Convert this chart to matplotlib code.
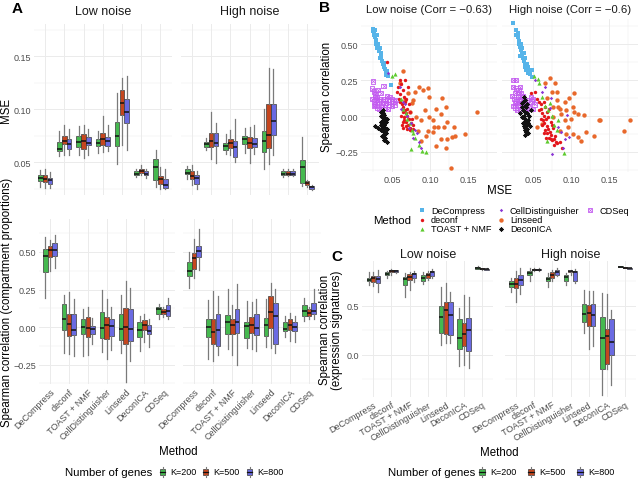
import matplotlib
matplotlib.use("Agg")
import matplotlib.pyplot as plt
from matplotlib.patches import Rectangle
from matplotlib.lines import Line2D
import numpy as np

plt.rcParams['font.family'] = ['Liberation Sans', 'DejaVu Sans']

# ---------------- data ----------------
methods = ["DeCompress", "deconf", "TOAST + NMF", "CellDistinguisher", "Linseed", "DeconICA", "CDSeq"]
k_labels = ["K=200", "K=500", "K=800"]
noise_labels = ["Low noise", "High noise"]
corr_labels = ["Low noise (Corr = \u22120.63)", "High noise (Corr = \u22120.6)"]

# box stats per method: (whisker low, q1, median, q3, whisker high)
mse_low_k200 = [(.0266, .0319, .035, .0381, .0422), (.0556, .06, .0625, .0688, .0788), (.0563, .0641, .0688, .0744, .0844),
                (.0588, .065, .0681, .0719, .0797), (.0484, .065, .075, .0875, .115), (.0359, .0375, .039, .0413, .0438),
                (.0266, .0328, .0453, .0525, .0609)]
mse_low_k500 = [(.0256, .0313, .0344, .0375, .0438), (.0569, .0666, .0703, .0744, .085), (.0538, .0619, .0703, .0766, .085),
                (.0594, .0656, .0713, .0772, .0931), (.0656, .0947, .1053, .1178, .1297), (.0381, .04, .0419, .0438, .0469),
                (.0244, .0291, .0344, .0366, .0453)]
mse_low_k800 = [(.0256, .0297, .0328, .035, .0406), (.0563, .0619, .0666, .0719, .0813), (.0569, .0656, .0681, .0734, .0813),
                (.06, .0647, .0694, .0734, .085), (.0609, .0866, .0969, .1094, .1313), (.035, .0375, .039, .0413, .0438),
                (.0244, .0259, .0281, .0344, .0438)]
mse_high_k200 = [(.0344, .0384, .04, .0431, .0459), (.0609, .0641, .0672, .0688, .0725), (.0578, .0616, .065, .0681, .0766),
                 (.0588, .0666, .0713, .0744, .0819), (.0431, .0594, .0694, .0797, .1), (.0359, .0375, .039, .0413, .0431),
                 (.0275, .0306, .0453, .0516, .0734)]
mse_high_k500 = [(.0288, .0344, .0369, .0413, .0475), (.0531, .0641, .0694, .0772, .0975), (.0563, .0631, .0681, .0713, .0806),
                 (.0494, .0631, .0681, .0734, .0828), (.0484, .0631, .0756, .1047, .1391), (.0369, .0375, .039, .0413, .0438),
                 (.0266, .0288, .0306, .0319, .0334)]
mse_high_k800 = [(.0244, .0291, .0353, .0375, .0413), (.0494, .065, .0681, .0772, .0869), (.05, .0547, .0641, .0703, .0906),
                 (.0578, .0641, .0669, .0725, .085), (.0569, .0756, .0891, .1047, .1375), (.0369, .0375, .039, .0413, .0431),
                 (.0234, .025, .0263, .0275, .0288)]

prop_low_k200 = [(.196, .367, .474, .519, .597), (-.171, -.022, .051, .151, .212), (-.194, -.049, -.002, .051, .122),
                 (-.167, -.071, -.009, .1, .247), (-.176, -.087, -.016, .085, .212), (-.16, -.065, -.02, .036, .073),
                 (.051, .089, .118, .136, .151)]
prop_low_k500 = [(.374, .47, .512, .537, .581), (-.183, -.06, .018, .089, .234), (-.189, -.065, -.009, .069, .136),
                 (-.216, -.078, .011, .069, .185), (-.367, -.111, .002, .129, .307), (-.1, -.02, .011, .047, .085),
                 (.069, .085, .1, .118, .136)]
prop_low_k800 = [(.396, .474, .512, .557, .612), (-.194, -.053, -.02, .085, .189), (-.116, -.049, -.011, .007, .062),
                 (-.154, -.06, .007, .051, .136), (-.227, -.094, -.011, .118, .261), (-.131, -.049, -.029, .011, .056),
                 (.056, .073, .107, .145, .196)]
prop_high_k200 = [(.263, .341, .374, .434, .497), (-.216, -.065, 0, .051, .178), (-.149, -.049, .033, .078, .252),
                  (-.138, -.071, .007, .033, .174), (-.131, -.06, .011, .062, .189), (-.065, -.027, -.016, .033, .073),
                  (.04, .073, .107, .145, .196)]
prop_high_k500 = [(.33, .385, .457, .492, .586), (-.227, -.116, -.033, .051, .241), (-.189, -.045, .016, .056, .145),
                  (-.149, -.038, .011, .067, .167), (-.138, -.009, .102, .207, .296), (-.094, -.022, .011, .056, .096),
                  (.056, .073, .096, .118, .136)]
prop_high_k800 = [(.381, .468, .508, .541, .653), (-.189, -.127, -.02, .085, .207), (-.256, -.042, .033, .118, .285),
                  (-.16, -.053, -.004, .089, .185), (-.176, -.111, .073, .163, .252), (-.1, -.027, 0, .033, .073),
                  (.051, .085, .107, .163, .256)]

sig_low_k200 = [(.719, .753, .764, .784, .849), (.788, .815, .829, .842, .856), (.592, .719, .774, .798, .832),
                (.729, .753, .788, .815, .842), (.097, .229, .392, .5, .698), (-.111, .063, .177, .368, .479),
                (.875, .882, .889, .896, .903)]
sig_low_k500 = [(.699, .747, .781, .805, .849), (.815, .842, .856, .863, .877), (.661, .764, .798, .822, .849),
                (.764, .788, .815, .832, .856), (.125, .212, .455, .542, .733), (-.101, .09, .212, .326, .611),
                (.872, .875, .882, .889, .892)]
sig_low_k800 = [(.64, .736, .774, .805, .866), (.836, .842, .853, .863, .87), (.747, .788, .822, .839, .856),
                (.781, .808, .842, .856, .877), (.118, .208, .403, .542, .646), (-.135, .038, .257, .378, .594),
                (.868, .872, .875, .882, .885)]
sig_high_k200 = [(.639, .698, .722, .75, .785), (.75, .819, .837, .854, .889), (.698, .75, .778, .792, .837),
                 (.715, .757, .795, .819, .837), (.229, .333, .42, .524, .663), (-.413, -.146, .177, .385, .628),
                 (.893, .897, .9, .905, .91)]
sig_high_k500 = [(.542, .681, .729, .785, .854), (.854, .865, .872, .878, .889), (.75, .785, .819, .844, .872),
                 (.819, .844, .854, .861, .872), (.056, .299, .427, .514, .653), (-.146, -.09, .194, .264, .618),
                 (.883, .886, .89, .893, .897)]
sig_high_k800 = [(.618, .715, .767, .813, .889), (.854, .863, .87, .878, .889), (.802, .819, .847, .865, .889),
                 (.733, .757, .847, .861, .882), (.09, .299, .403, .524, .653), (-.309, .003, .132, .368, .455),
                 (.876, .879, .883, .887, .89)]

# scatter (MSE, Spearman correlation) points, panel B
b_low_decompress = [(.0244, .606), (.025, .59), (.026, .58), (.027, .6), (.026, .56), (.028, .55), (.029, .53), (.03, .56),
                    (.031, .5), (.03, .47), (.032, .49), (.033, .45), (.034, .47), (.035, .43), (.036, .41), (.034, .4),
                    (.037, .38), (.038, .36), (.039, .37), (.04, .34), (.041, .33), (.042, .3), (.043, .29), (.044, .31),
                    (.045, .28), (.0415, .288), (.049, .217), (.036, .44), (.029, .5)]
b_low_deconf = [(.0436, .377), (.06, .25), (.062, .22), (.058, .2), (.064, .18), (.06, .15), (.066, .13), (.061, .1),
                (.063, .08), (.065, .06), (.067, .04), (.068, .02), (.07, .0), (.072, -.02), (.066, -.01), (.069, -.04),
                (.071, -.06), (.073, -.08), (.068, -.07), (.075, -.05), (.064, .03), (.062, .0), (.066, -.03), (.07, .05),
                (.072, .08), (.074, .03), (.076, -.02), (.078, -.06), (.074, -.1), (.07, -.09), (.065, -.04), (.063, -.06),
                (.067, .1), (.069, .12), (.059, .12), (.057, .17), (.071, .2), (.067, .25), (.065, -.08), (.077, -.09)]
b_low_toast = [(.05, .28), (.054, .29), (.062, .12), (.065, .05), (.07, -.02), (.073, -.05), (.078, -.12), (.08, -.15),
               (.075, -.23), (.085, -.2), (.09, -.24), (.095, -.25), (.068, .02), (.076, -.1)]
b_low_celldist = [(.045, .3), (.06, .2), (.065, .1), (.07, .0), (.075, -.05), (.08, -.1), (.085, -.18), (.088, -.22),
                  (.072, -.08), (.078, -.15), (.062, .05), (.083, -.12), (.067, .08)]
b_low_linseed = [(.065, .311), (.0607, .229), (.085, .205), (.0979, .193), (.0906, .182), (.0799, .17), (.0714, .158),
                 (.0778, .111), (.0991, .13), (.1162, .123), (.1077, .052), (.1141, .017), (.1034, -.031), (.1226, -.042),
                 (.1184, -.078), (.1098, -.078), (.097, -.101), (.1034, -.113), (.1312, -.078), (.1333, -.137),
                 (.1291, -.149), (.1226, -.16), (.1141, -.16), (.1462, -.125), (.1611, .028), (.1269, -.361),
                 (.0842, -.101), (.0885, -.031), (.0927, .04), (.0949, -.137), (.0885, -.172), (.1077, -.208),
                 (.1205, -.219), (.0735, .028), (.082, -.007), (.0671, .111), (.0756, .087), (.0991, -.007),
                 (.1056, -.078), (.1205, .064)]
b_low_deconica = [(.036, .03), (.038, .02), (.04, .01), (.037, .0), (.039, -.01), (.041, -.02), (.038, -.03), (.036, -.04),
                  (.04, -.05), (.042, -.04), (.039, -.06), (.037, -.07), (.041, -.08), (.038, -.09), (.036, -.1),
                  (.04, -.11), (.042, -.12), (.039, -.13), (.037, -.14), (.041, -.15), (.04, -.17), (.043, -.18),
                  (.028, -.07), (.032, -.08), (.035, -.06), (.043, -.02), (.038, .04), (.04, -.03), (.035, .0), (.044, -.09)]
b_low_cdseq = [(.025, .24), (.024, .19), (.026, .17), (.028, .15), (.03, .13), (.024, .12), (.026, .1), (.028, .08),
               (.03, .06), (.032, .1), (.034, .12), (.036, .08), (.038, .1), (.04, .12), (.042, .09), (.044, .11),
               (.046, .08), (.048, .1), (.05, .12), (.052, .1), (.054, .08), (.035, .16), (.033, .05), (.037, .06),
               (.041, .06), (.045, .05), (.03, .11), (.028, .13), (.05, .07), (.043, .14), (.047, .13), (.055, .11),
               (.039, .21), (.031, .18), (.026, .07)]

b_high_decompress = [(.0237, .649), (.027, .6), (.028, .56), (.03, .55), (.031, .52), (.032, .5), (.033, .48), (.034, .46),
                     (.035, .44), (.036, .42), (.037, .4), (.038, .38), (.039, .36), (.04, .34), (.041, .32), (.043, .3),
                     (.046, .29), (.048, .27), (.045, .31), (.036, .47), (.034, .5), (.04, .4), (.042, .36), (.038, .44),
                     (.044, .34), (.049, .32), (.03, .58), (.033, .42)]
b_high_deconf = [(.047, .16), (.052, .17), (.055, .12), (.058, .1), (.06, .05), (.062, .02), (.064, .0), (.063, -.03),
                 (.065, -.05), (.067, -.02), (.068, -.07), (.07, -.09), (.066, -.1), (.072, -.11), (.074, -.13),
                 (.071, -.15), (.075, -.17), (.078, -.16), (.08, -.18), (.077, -.2), (.082, -.19), (.069, .03),
                 (.073, -.04), (.076, -.08), (.062, -.06), (.06, .08), (.064, .1), (.066, .06), (.07, -.01), (.068, -.12),
                 (.073, -.16), (.079, -.14), (.085, -.18), (.088, -.22), (.075, -.06), (.065, -.12), (.061, -.02),
                 (.058, .04), (.071, .05), (.067, -.15)]
b_high_toast = [(.051, .276), (.0576, .229), (.062, .134), (.072, .087), (.07, .04), (.083, -.03), (.081, -.1),
                (.068, -.177), (.0907, -.255), (.056, .26), (.066, .07), (.075, .0), (.078, -.06)]
b_high_celldist = [(.062, .17), (.0737, .123), (.0725, .059), (.095, .005), (.0873, -.113), (.0979, -.149),
                   (.0754, -.267), (.0915, -.16), (.0822, -.078), (.0894, -.219), (.052, .25), (.066, .2)]
b_high_linseed = [(.0725, .264), (.0661, .229), (.0788, .229), (.0746, .17), (.0809, .17), (.0682, .123), (.0809, .111),
                  (.0915, .099), (.1042, .163), (.0979, .123), (.0767, .064), (.0852, .052), (.0936, .04), (.1042, .028),
                  (.0873, .017), (.0767, -.007), (.1, -.019), (.1085, .017), (.117, .005), (.0555, -.078), (.0619, -.054),
                  (.1297, -.137), (.1191, -.113), (.1085, -.149), (.1021, -.125), (.1127, -.172), (.1381, -.026),
                  (.1373, -.031), (.1771, -.031), (.1691, -.106), (.0958, -.078), (.0852, -.101), (.0915, -.031),
                  (.083, .064), (.1021, .064), (.0936, -.125)]
b_high_deconica = [(.038, .13), (.04, .11), (.036, .09), (.039, .07), (.041, .06), (.037, .04), (.04, .03), (.042, .02),
                   (.038, .0), (.036, -.01), (.04, -.02), (.043, -.03), (.039, -.04), (.037, -.05), (.041, -.06),
                   (.044, -.05), (.038, -.07), (.04, -.08), (.042, -.09), (.039, -.1), (.041, -.11), (.04, -.13),
                   (.043, -.12), (.045, .0), (.047, .04), (.035, .06), (.033, .02), (.046, -.07), (.037, .1), (.042, .08)]
b_high_cdseq = [(.0237, .252), (.028, .25), (.024, .2), (.028, .19), (.026, .16), (.03, .15), (.025, .12), (.028, .1),
                (.03, .08), (.027, .06), (.032, .11), (.034, .09), (.036, .07), (.033, .05), (.031, .13), (.035, .12),
                (.038, .1), (.04, .08), (.045, .06), (.048, .1), (.05, .12), (.052, .08), (.047, .13), (.043, .11),
                (.042, .05), (.039, .05), (.029, .04), (.034, .16), (.037, .14), (.05, .05), (.026, .09), (.031, .18),
                (.022, .14), (.033, .2), (.024, .07)]

# ---------------- styles ----------------
K_COLORS = ["#45B94F", "#C4461E", "#6A6AE2"]
M_STYLE = {
    "DeCompress": dict(marker='s', color='#56B4E9', s=6),
    "deconf": dict(marker='o', color='#E3161B', s=6),
    "TOAST + NMF": dict(marker='^', color='#5DCB2E', s=9),
    "CellDistinguisher": dict(marker='D', color='#8A35D4', s=3),
    "Linseed": dict(marker='o', color='#E8682B', s=10),
    "DeconICA": dict(marker=(8, 2, 0), color='#111111', s=8),
    "CDSeq": dict(marker='s', color='#C35BF0', s=10),
}
GRID = '#EBEBEB'
TICKC = '#4D4D4D'
W, H = 642, 481
fig = plt.figure(figsize=(W / 100, H / 100), dpi=100)
fig.patch.set_facecolor('white')


def fxy(x, y):
    return x / W, 1 - y / H


def add_ax(x0, y0, x1, y1):
    return fig.add_axes([x0 / W, 1 - y1 / H, (x1 - x0) / W, (y1 - y0) / H])


def base_style(ax):
    for s in ax.spines.values():
        s.set_visible(False)
    ax.tick_params(which='both', length=0, labelsize=6.5, labelcolor=TICKC, pad=2)
    ax.set_axisbelow(True)


def box_panel(ax, stats3, ylim, yt, ytl, ymin, show_x, rot):
    base_style(ax)
    for j, (stats, col) in enumerate(zip(stats3, K_COLORS)):
        pos = np.arange(len(methods)) + (j - 1) * 0.25
        bx = [dict(whislo=s[0], q1=s[1], med=s[2], q3=s[3], whishi=s[4]) for s in stats]
        ax.bxp(bx, positions=pos, widths=0.24, patch_artist=True, showfliers=False, showcaps=False,
               manage_ticks=False,
               boxprops=dict(facecolor=col, edgecolor='#3a3a3a', linewidth=0.5),
               medianprops=dict(color='#111111', linewidth=1.1),
               whiskerprops=dict(color='#7a7a7a', linewidth=0.9))
    ax.set_xlim(-0.6, len(methods) - 0.4)
    ax.set_ylim(*ylim)
    ax.set_xticks(range(len(methods)))
    ax.set_yticks(yt)
    ax.set_yticks(ymin, minor=True)
    ax.grid(True, which='major', color=GRID, linewidth=0.7)
    ax.grid(True, which='minor', axis='y', color=GRID, linewidth=0.35)
    ax.set_yticklabels(ytl)
    if show_x:
        ax.set_xticklabels(methods, rotation=rot, ha='right', rotation_mode='anchor', fontsize=6.5, color=TICKC)
    else:
        ax.set_xticklabels([])


# ---------------- panel A ----------------
mse_sets = [[mse_low_k200, mse_low_k500, mse_low_k800], [mse_high_k200, mse_high_k500, mse_high_k800]]
prop_sets = [[prop_low_k200, prop_low_k500, prop_low_k800], [prop_high_k200, prop_high_k500, prop_high_k800]]
sig_sets = [[sig_low_k200, sig_low_k500, sig_low_k800], [sig_high_k200, sig_high_k500, sig_high_k800]]

a_top = [(33.5, 172), (180.5, 318.5)]
a_bot = [(38.7, 174.6), (182.5, 320.5)]
for i in range(2):
    ax = add_ax(a_top[i][0], 25, a_top[i][1], 196)
    box_panel(ax, mse_sets[i], (0.0189, 0.1802), [0.05, 0.10, 0.15], ['0.05', '0.10', '0.15'] if i == 0 else [],
              [0.025, 0.075, 0.125, 0.175], False, 45)
    ax.text(0.5, 1.0 + 13 / 171, noise_labels[i], transform=ax.transAxes, ha='center', va='center', fontsize=9,
            color='#1A1A1A')
    ax = add_ax(a_bot[i][0], 220, a_bot[i][1], 385)
    box_panel(ax, prop_sets[i], (-0.38, 0.72), [-0.25, 0, 0.25, 0.5],
              ['\u22120.25', '0.00', '0.25', '0.50'] if i == 0 else [], [-0.375, -0.125, 0.125, 0.375, 0.625], True, 45)

fig.text(*fxy(6, 110), "MSE", rotation=90, ha='center', va='center', fontsize=8.3)
fig.text(*fxy(7, 302), "Spearman correlation (compartment proportions)", rotation=90, ha='center', va='center',
         fontsize=8.3)
fig.text(*fxy(178, 452), "Method", ha='center', va='center', fontsize=8.3)

# ---------------- panel C ----------------
c_pan = [(362.4, 493), (505, 636)]
for i in range(2):
    ax = add_ax(c_pan[i][0], 262, c_pan[i][1], 398)
    box_panel(ax, sig_sets[i], (-0.429, 0.959), [0.0, 0.5], ['0.0', '0.5'] if i == 0 else [],
              [-0.25, 0.25, 0.75], True, 30)
    ax.text(0.5, 1.0 + 7 / 136, noise_labels[i], transform=ax.transAxes, ha='center', va='center', fontsize=9,
            color='#1A1A1A')
fig.text(*fxy(331, 330), "Spearman correlation\n(expression signatures)", rotation=90, ha='center', va='center',
         fontsize=8.3, linespacing=0.95)
fig.text(*fxy(499, 453), "Method", ha='center', va='center', fontsize=8.3)


# legends for box panels
def box_legend(title_x, key_xs, y):
    fig.text(*fxy(title_x, y), "Number of genes", ha='left', va='center', fontsize=8.2)
    for kx, col, lab in zip(key_xs, K_COLORS, k_labels):
        x0, y0 = fxy(kx - 2.8, y + 2.8)
        r = Rectangle((x0, y0), 5.6 / W, 5.6 / H, transform=fig.transFigure, facecolor=col, edgecolor='#3a3a3a',
                      linewidth=0.5)
        fig.add_artist(r)
        fig.add_artist(Line2D([fxy(kx, 0)[0]] * 2, [fxy(0, y - 5)[1], fxy(0, y - 2.8)[1]], transform=fig.transFigure,
                              color='#7a7a7a', linewidth=0.8))
        fig.add_artist(Line2D([fxy(kx, 0)[0]] * 2, [fxy(0, y + 2.8)[1], fxy(0, y + 5)[1]], transform=fig.transFigure,
                              color='#7a7a7a', linewidth=0.8))
        fig.add_artist(Line2D([fxy(kx - 2.8, 0)[0], fxy(kx + 2.8, 0)[0]], [fxy(0, y)[1]] * 2,
                              transform=fig.transFigure, color='#111111', linewidth=0.9))
        fig.text(*fxy(kx + 8, y), lab, ha='left', va='center', fontsize=6.5)


box_legend(65, [162.5, 205.5, 249.5], 473)
box_legend(388, [482, 531, 580], 473)

# ---------------- panel B ----------------
b_sets = [
    {"DeCompress": b_low_decompress, "deconf": b_low_deconf, "TOAST + NMF": b_low_toast,
     "CellDistinguisher": b_low_celldist, "Linseed": b_low_linseed, "DeconICA": b_low_deconica, "CDSeq": b_low_cdseq},
    {"DeCompress": b_high_decompress, "deconf": b_high_deconf, "TOAST + NMF": b_high_toast,
     "CellDistinguisher": b_high_celldist, "Linseed": b_high_linseed, "DeconICA": b_high_deconica,
     "CDSeq": b_high_cdseq},
]
draw_order = ["Linseed", "DeCompress", "CDSeq", "DeconICA", "deconf", "TOAST + NMF", "CellDistinguisher"]
b_pan = [(361, 497), (502, 638)]


def draw_marker(ax, m, xs, ys):
    st = M_STYLE[m]
    if m == "CDSeq":
        ax.scatter(xs, ys, marker='s', s=st['s'], facecolors='none', edgecolors=st['color'], linewidths=0.6)
        ax.scatter(xs, ys, marker='x', s=st['s'] * 0.6, color=st['color'], linewidths=0.5)
    elif m == "DeconICA":
        ax.scatter(xs, ys, marker=st['marker'], s=st['s'], color=st['color'], linewidths=0.5)
    else:
        ax.scatter(xs, ys, marker=st['marker'], s=st['s'], color=st['color'], linewidths=0)


for i in range(2):
    ax = add_ax(b_pan[i][0], 20, b_pan[i][1], 173)
    base_style(ax)
    for m in draw_order:
        pts = b_sets[i][m]
        xs = [p[0] for p in pts]
        ys = [p[1] for p in pts]
        draw_marker(ax, m, xs, ys)
    ax.set_xlim(0.0092, 0.188)
    ax.set_ylim(-0.389, 0.674)
    ax.set_xticks([0.05, 0.10, 0.15])
    ax.set_xticks([0.025, 0.075, 0.125, 0.175], minor=True)
    ax.set_yticks([-0.25, 0, 0.25, 0.5])
    ax.set_yticks([-0.375, -0.125, 0.125, 0.375, 0.625], minor=True)
    ax.grid(True, which='major', color=GRID, linewidth=0.7)
    ax.grid(True, which='minor', color=GRID, linewidth=0.35)
    ax.set_xticklabels(['0.05', '0.10', '0.15'])
    ax.set_yticklabels(['\u22120.25', '0.00', '0.25', '0.50'] if i == 0 else [])
    ax.text(0.5, 1.0 + 10 / 153, corr_labels[i], transform=ax.transAxes, ha='center', va='center', fontsize=8.2,
            color='#1A1A1A')

fig.text(*fxy(327, 97), "Spearman correlation", rotation=90, ha='center', va='center', fontsize=8.3)
fig.text(*fxy(500, 191), "MSE", ha='center', va='center', fontsize=8.3)

# B legend (manual)
lax = fig.add_axes([0, 0, 1, 1], facecolor='none')
lax.set_xlim(0, W)
lax.set_ylim(H, 0)
lax.axis('off')
fig.text(*fxy(373, 221), "Method", ha='left', va='center', fontsize=8.2)
leg_pos = {"DeCompress": (422, 211), "deconf": (422, 220.5), "TOAST + NMF": (422, 230),
           "CellDistinguisher": (501, 211), "Linseed": (501, 220.5), "DeconICA": (501, 230), "CDSeq": (590, 211)}
for m, (lx, ly) in leg_pos.items():
    draw_marker(lax, m, [lx], [ly])
    fig.text(*fxy(lx + 9, ly), m, ha='left', va='center', fontsize=6.6)

# panel letters
fig.text(*fxy(17, 9), "A", ha='center', va='center', fontsize=11, fontweight='bold')
fig.text(*fxy(325, 8), "B", ha='center', va='center', fontsize=11, fontweight='bold')
fig.text(*fxy(337, 257), "C", ha='center', va='center', fontsize=11, fontweight='bold')

fig.savefig("out.png", dpi=100, facecolor='white')
